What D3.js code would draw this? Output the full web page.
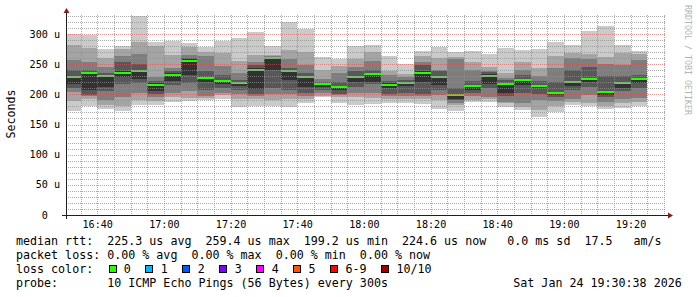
<!DOCTYPE html>
<html>
<head>
<meta charset="utf-8">
<script src="https://cdnjs.cloudflare.com/ajax/libs/d3/7.8.5/d3.min.js"></script>
<style>
body { margin: 0; background: #fff; }
svg text { font-family: "DejaVu Sans Mono", monospace; white-space: pre; }
</style>
</head>
<body>
<script>
// 5 minute slots (start time of each step)
var slots = ["16:30","16:35","16:40","16:45","16:50","16:55",
  "17:00","17:05","17:10","17:15","17:20","17:25","17:30","17:35","17:40","17:45","17:50","17:55",
  "18:00","18:05","18:10","18:15","18:20","18:25","18:30","18:35","18:40","18:45","18:50","18:55",
  "19:00","19:05","19:10","19:15","19:20"];

// sorted ping rtt per slot, microseconds
var ping1  = [173,180,175,173,182,182,188,189,190,193,179,180,180,179,186,195,185,182,184,186,186,184,175,173,187,187,179,174,163,170,182,180,175,177,180];
var ping2  = [189,192,182,180,191,189,196,194,194,199,193,192,190,192,193,198,195,196,194,192,192,192,190,182,190,192,185,179,174,180,188,186,180,186,187];
var ping3  = [204,197,190,195,203,196,203,205,198,202,200,197,200,200,197,203,199,203,202,197,197,197,199,186,197,196,188,185,190,189,192,199,188,192,194];
var ping4  = [210,199,205,217,218,200,215,218,208,211,208,200,210,207,203,207,201,212,217,201,202,201,208,190,202,210,197,203,200,195,207,212,195,205,210];
var ping5  = [217,207,212,229,226,206,222,232,221,217,214,209,240,223,212,212,207,221,221,210,213,221,215,193,207,217,203,215,210,199,214,221,199,210,218];
var ping6  = [230,237,232,238,241,218,235,258,229,224,221,243,261,241,230,219,214,230,235,218,220,239,231,201,215,233,219,225,216,204,222,227,206,221,226];
var ping7  = [240,240,236,254,251,222,239,261,238,232,224,249,262,243,235,221,220,238,240,222,224,249,238,210,222,237,223,232,222,221,241,246,230,230,232];
var ping8  = [257,254,245,264,267,228,244,265,264,247,236,254,263,258,249,225,235,246,256,232,229,254,240,258,241,239,227,240,230,243,260,258,250,249,257];
var ping9  = [282,277,260,275,286,280,265,278,271,268,256,265,265,273,271,241,247,258,271,239,234,263,260,262,254,246,235,254,243,264,268,267,262,269,267];
var ping10 = [300,299,275,280,330,286,289,285,279,289,293,303,280,320,309,262,258,280,282,263,250,272,278,271,272,267,276,273,275,287,282,305,313,282,272];
var median = [228,235,230,236,239,216,232,256,227,222,219,240,259.4,239,228,217,212,228,233,216,218,236,228,199.2,213,231,217,223,214,202,220,225,204,219,224.6];

// y tick labels (microseconds)
var yTicks = [0, 50, 100, 150, 200, 250, 300];

// loss legend
var lossLabels = ["0", "1", "2", "3", "4", "5", "6-9", "10/10"];
var lossColors = ["#26ff00", "#00b8ff", "#0059ff", "#7e00ff", "#ff00ff", "#ff5500", "#ff0000", "#a10000"];

var margin = {top: 15, right: 31, bottom: 82, left: 66},
  width = 697 - margin.left - margin.right,
  height = 297 - margin.top - margin.bottom;

var day = function(h, m, s) { return new Date(Date.UTC(2026, 0, 24, h, m, s || 0)); };
var parseSlot = function(s) { var p = s.split(":"); return day(+p[0], +p[1]); };

var x = d3.scaleUtc().domain([day(16, 30, 38), day(19, 30, 38)]).range([0, width]);
var y = d3.scaleLinear().domain([0, 331.5]).range([height, 0]);

// smoke bands: outer pair lightest, inner pair darkest
var bands = [[ping1, ping10, "#cacaca"], [ping2, ping9, "#a4a4a4"], [ping3, ping8, "#7e7e7e"],
             [ping4, ping7, "#585858"], [ping5, ping6, "#323232"]];

var svg = d3.select("body").append("svg")
    .attr("width", 697)
    .attr("height", 297);

var g = svg.append("g")
    .attr("transform", "translate(" + margin.left + "," + margin.top + ")");

var x0 = function(i) { return Math.max(0, x(parseSlot(slots[i]))); };
var x1 = function(i) { return x(d3.utcMinute.offset(parseSlot(slots[i]), 5)); };

// draw smoke
bands.forEach(function(b) {
  g.append("g").selectAll("rect")
      .data(slots)
    .enter().append("rect")
      .attr("x", function(d, i) { return x0(i); })
      .attr("width", function(d, i) { return x1(i) - x0(i); })
      .attr("y", function(d, i) { return y(b[1][i]); })
      .attr("height", function(d, i) { return y(b[0][i]) - y(b[1][i]); })
      .attr("fill", b[2])
      .attr("shape-rendering", "crispEdges");
});

// median (loss 0 colour)
g.append("g").selectAll("rect")
    .data(median)
  .enter().append("rect")
    .attr("x", function(d, i) { return x0(i); })
    .attr("width", function(d, i) { return x1(i) - x0(i); })
    .attr("y", function(d) { return Math.round(y(d)) - 1; })
    .attr("height", 2)
    .attr("fill", lossColors[0])
    .attr("shape-rendering", "crispEdges");

// grid, drawn over the smoke like rrdtool does
var minorCol = "rgba(143,143,143,0.75)", majorCol = "rgba(222,79,79,0.6)";
var hMinor = d3.range(10, 331, 10).filter(function(v) { return v % 50 !== 0; });
var hMajor = d3.range(50, 331, 50);
var vMinor = x.ticks(d3.utcMinute.every(5)).filter(function(t) { return t.getUTCMinutes() % 20 !== 0; });
var vMajor = x.ticks(d3.utcMinute.every(20));

function hLines(vals, col) {
  g.append("g").selectAll("line").data(vals).enter().append("line")
      .attr("x1", 0).attr("x2", width)
      .attr("y1", function(d) { return Math.round(y(d)) + 0.5; })
      .attr("y2", function(d) { return Math.round(y(d)) + 0.5; })
      .attr("stroke", col).attr("stroke-dasharray", "1,1");
}
function vLines(vals, col) {
  g.append("g").selectAll("line").data(vals).enter().append("line")
      .attr("y1", 0).attr("y2", height)
      .attr("x1", function(d) { return Math.round(x(d)) + 0.5; })
      .attr("x2", function(d) { return Math.round(x(d)) + 0.5; })
      .attr("stroke", col).attr("stroke-dasharray", "1,1");
}
hLines(hMinor, minorCol);
vLines(vMinor, minorCol);
hLines(hMajor, majorCol);
vLines(vMajor, majorCol);

// axes with arrows
g.append("line")
    .attr("x1", -4).attr("x2", width + 4)
    .attr("y1", height + 0.5).attr("y2", height + 0.5)
    .attr("stroke", "#1f1f1f");
g.append("line")
    .attr("x1", 0.5).attr("x2", 0.5)
    .attr("y1", height + 4).attr("y2", -4)
    .attr("stroke", "#1f1f1f");
g.append("path")
    .attr("d", "M" + (width + 2) + "," + (height - 2.5) + "L" + (width + 2) + "," + (height + 3.5) + "L" + (width + 7) + "," + (height + 0.5) + "Z")
    .attr("fill", "#801f1f");
g.append("path")
    .attr("d", "M-2.5,-2L3.5,-2L0.5,-7Z")
    .attr("fill", "#801f1f");

// y labels
g.append("g").selectAll("text")
    .data(yTicks)
  .enter().append("text")
    .attr("x", -6)
    .attr("y", function(d) { return y(d) + 3.5; })
    .attr("text-anchor", "end")
    .style("font-size", "10.1px")
    .text(function(d) { return d === 0 ? "0\u00a0\u00a0" : d + " u"; });

// x labels
g.append("g").selectAll("text")
    .data(vMajor)
  .enter().append("text")
    .attr("x", function(d) { return x(d) + 0.5; })
    .attr("y", height + 13.3)
    .attr("text-anchor", "middle")
    .style("font-size", "10.1px")
    .text(d3.utcFormat("%H:%M"));

// vertical unit label
svg.append("text")
    .attr("transform", "translate(15,114) rotate(-90)")
    .attr("text-anchor", "middle")
    .style("font-size", "11.6px")
    .text("Seconds");

// watermark
svg.append("text")
    .attr("transform", "translate(685,5) rotate(90)")
    .style("font-size", "8.3px")
    .attr("fill", "#b4b4b4")
    .text("RRDTOOL / TOBI OETIKER");

// legend
var f = d3.format(".1f");
var legend = svg.append("g").style("font-size", "11.66px");
legend.append("text").attr("x", 16).attr("y", 245).attr("xml:space", "preserve")
    .text("median rtt:  " + f(d3.mean(median)) + " us avg  " + f(d3.max(median)) + " us max  " +
          f(d3.min(median)) + " us min  " + f(median[median.length - 1]) + " us now   0.0 ms sd  17.5   am/s");
legend.append("text").attr("x", 16).attr("y", 259).attr("xml:space", "preserve")
    .text("packet loss: 0.00 % avg  0.00 % max  0.00 % min  0.00 % now");
legend.append("text").attr("x", 16).attr("y", 273).text("loss color:");
legend.append("text").attr("x", 16).attr("y", 287).attr("xml:space", "preserve")
    .text("probe:       10 ICMP Echo Pings (56 Bytes) every 300s");
legend.append("text").attr("x", 513.3).attr("y", 287)
    .text("Sat Jan 24 19:30:38 2026");

var charW = 7.02, bx = 108.5;
lossLabels.forEach(function(l, i) {
  legend.append("rect")
      .attr("x", Math.round(bx) + 0.5).attr("y", 265.5)
      .attr("width", 7).attr("height", 7)
      .attr("fill", lossColors[i]).attr("stroke", "#000");
  legend.append("text").attr("x", bx + 15.3).attr("y", 273).text(l);
  bx = bx + 15.3 + (l.length + 2) * charW + 0.6;
});
</script>
</body>
</html>
